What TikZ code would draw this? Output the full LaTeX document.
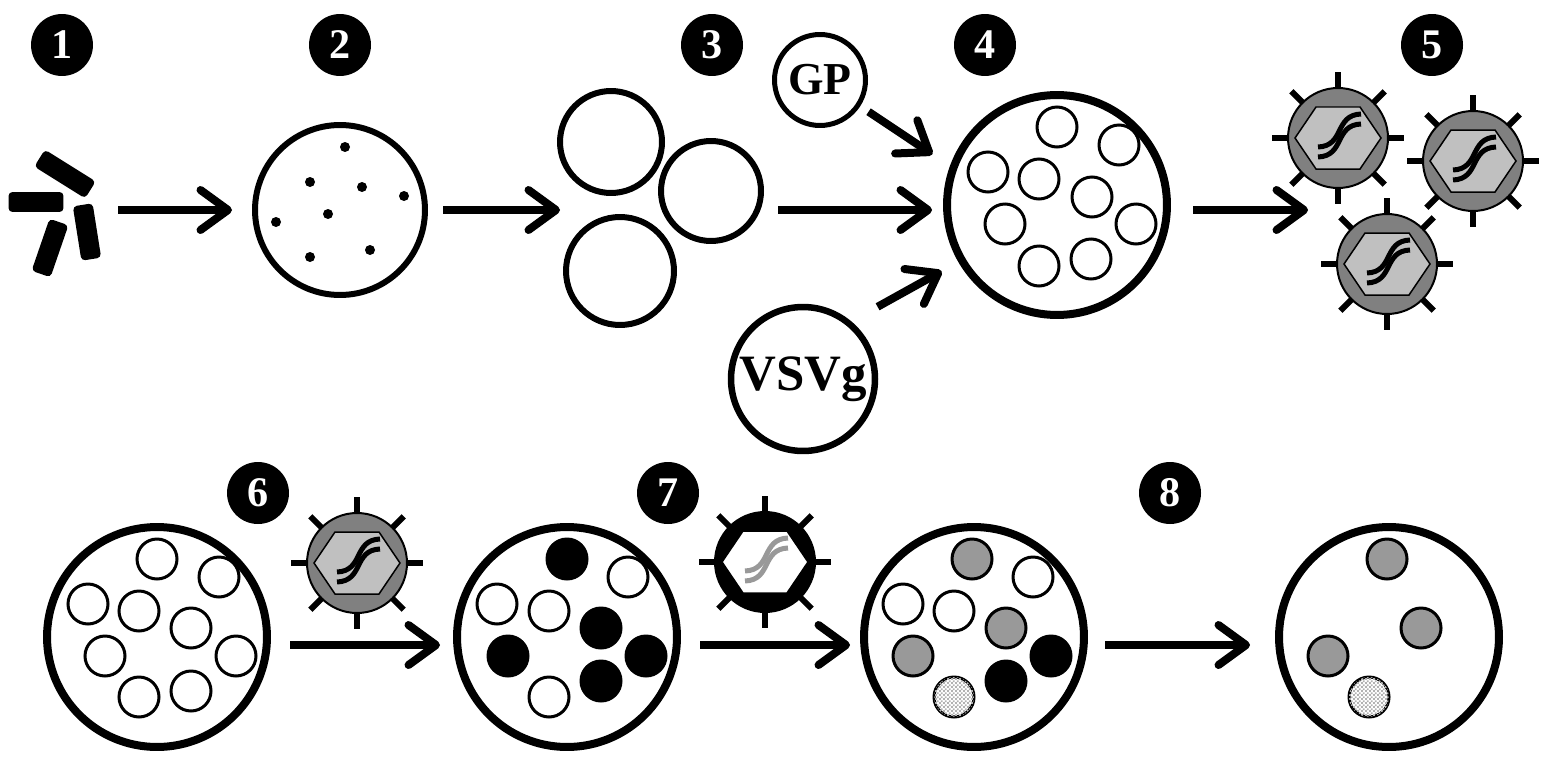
\documentclass[tikz,border=0pt]{standalone}
\usepackage{fontspec}
\setmainfont{Liberation Serif}
\usetikzlibrary{positioning}
\usetikzlibrary{arrows.meta, calc, patterns}
\definecolor{ringgray}{RGB}{128,128,128}
\definecolor{hexgray}{RGB}{192,192,192}
\definecolor{dotgray}{RGB}{153,153,153}

% fine checker for the marked vesicle
\pgfdeclarepatternformonly{finechecker}{\pgfpointorigin}{\pgfpoint{2.4pt}{2.4pt}}{\pgfpoint{2.4pt}{2.4pt}}{%
    \pgfpathrectangle{\pgfpointorigin}{\pgfpoint{1.2pt}{1.2pt}}%
    \pgfpathrectangle{\pgfpoint{1.2pt}{1.2pt}}{\pgfpoint{1.2pt}{1.2pt}}%
    \pgfusepath{fill}}

% virus particle: ring colour, capsid colour, genome colour
\tikzset{
  pics/virus/.style n args={3}{code={
    \foreach \a in {0,45,...,315}
      \draw[line width=0.12cm] (\a:44) -- (\a:66);
    \draw[fill=#1, line width=0.04cm] (0,0) circle (1cm);
    \draw[fill=#2, line width=0.03cm] (-43,0) -- (-22,-31) -- (22,-31) -- (43,0) -- (22,31) -- (-22,31) -- cycle;
    \draw[#3, line width=0.1cm] (-20,9) .. controls (7,8) and (-4,-23) .. (23,-24);
    \draw[#3, line width=0.1cm] (-20,19) .. controls (7,18) and (-4,-13) .. (23,-14);
  }}
}

\begin{document}
\begin{tikzpicture}[x=0.02cm, y=-0.02cm]
    \tikzstyle{num} = [circle, fill=black, text=white, minimum size=1.24cm, inner sep=0pt, font=\fontsize{24}{24}\selectfont\bfseries]
    \tikzstyle{cell} = [circle, draw, line width=0.16cm, minimum size=4.4cm, inner sep=0pt]
    \tikzstyle{ring} = [circle, draw, line width=0.12cm, inner sep=0pt]
    \tikzstyle{ves} = [circle, draw, line width=0.06cm, fill=white, minimum size=0.8cm, inner sep=0pt]
    \tikzstyle{opn} = [ves]
    \tikzstyle{blk} = [ves, fill=black]
    \tikzstyle{gry} = [ves, fill=dotgray]
    \tikzstyle{chk} = [ves, postaction={pattern=finechecker, pattern color=black!30}]
    \tikzstyle{dot} = [circle, fill=black, minimum size=0.2cm, inner sep=0pt]
    \tikzstyle{frag} = [rectangle, rounded corners=0.08cm, fill=black, minimum width=1.1cm, minimum height=0.4cm, inner sep=0pt]
    \tikzstyle{flow} = [line width=0.16cm, -{Straight Barb[round, length=0.55cm, width=0.8cm]}]
    %%
    \useasboundingbox (0,0) rectangle (1547,757);

    %% step numbers
    \node[num] (n1) at (62,45) {1};
    \node[num] (n2) at (340,45) {2};
    \node[num] (n3) at (712,45) {3};
    \node[num] (n4) at (985,45) {4};
    \node[num] (n5) at (1432,45) {5};
    \node[num] (n6) at (258,493) {6};
    \node[num] (n7) at (668,493) {7};
    \node[num] (n8) at (1170,493) {8};

    %% 1: tissue fragments
    \node[frag] (f1) at (36,202) {};
    \node[frag, rotate=-32, minimum width=1.2cm] (f2) at (65,174) {};
    \node[frag, rotate=-81] (f3) at (87,232) {};
    \node[frag, rotate=71] (f4) at (50,248) {};
    \coordinate (g1) at (60,210);

    %% 2: dissociated cells
    \node[ring, minimum size=3.4cm] (c2) at (340,210) {};
    \foreach \x/\y [count=\i] in {345/147, 310/182, 362/187, 404/196, 276/222, 328/214, 310/257, 370/250}
        \node[dot] (d\i) at (\x,\y) {};

    %% 3: sorted cells
    \node[ring, minimum size=2.04cm] (r1) at (611,142) {};
    \node[ring, minimum size=2.0cm] (r2) at (711,191) {};
    \node[ring, minimum size=2.16cm] (r3) at (620,271) {};
    \coordinate (g3) at (660,210);

    %% envelope proteins
    \node[ring, line width=0.1cm, minimum size=1.82cm, font=\fontsize{26}{26}\selectfont\bfseries] (gp) at (820,80) {GP};
    \node[ring, line width=0.13cm, minimum size=2.88cm, font=\fontsize{29}{29}\selectfont\bfseries] (vsv) at (803,379) {VSVg};

    %% 4: culture
    \node[cell] (c4) at (1057,205) {};
    \begin{scope}[shift={(c4)}]
        \foreach \x/\y [count=\i] in {0/-78, 62/-60, -69/-33, -18/-26, 35/-8, -52/19, 79/19, -18/61, 34/54}
            \node[opn] (c4-\i) at (\x,\y) {};
    \end{scope}

    %% 5: pseudotyped particles
    \pic (v5a) at (1338,138) {virus={ringgray}{hexgray}{black}};
    \pic (v5b) at (1473,161) {virus={ringgray}{hexgray}{black}};
    \pic (v5c) at (1387,264) {virus={ringgray}{hexgray}{black}};
    \coordinate (g5) at (1400,210);

    \draw[flow] ($(g1)+(58,0)$) -- ($(c2)+(-108,0)$);
    \draw[flow] ($(c2)+(103,0)$) -- ($(g3)+(-100,0)$);
    \draw[flow] ($(g3)+(118,0)$) -- ($(g3 -| c4)+(-125,0)$);
    \draw[flow, shorten <=0.2cm, shorten >=0.42cm] (gp.-33) -- (c4.160);
    \draw[flow, shorten <=0.6cm, shorten >=0.38cm] (vsv.50) -- (c4.210);
    \draw[flow] ($(g3 -| c4)+(136,0)$) -- ($(g5)+(-92,0)$);

    %% 6-8: infection and selection
    \node[cell] (c6) at (157,637) {};
    \begin{scope}[shift={(c6)}]
        \foreach \x/\y [count=\i] in {0/-78, 62/-60, -69/-33, -18/-26, 34/-9, -52/19, 79/19, -18/60, 34/54}
            \node[opn] (c6-\i) at (\x,\y) {};
    \end{scope}

    \node[cell] (c7) at (567,637) {};
    \begin{scope}[shift={(c7)}]
        \foreach \x/\y/\s [count=\i] in {0/-78/blk, 61/-60/opn, -70/-33/opn, -18/-26/opn, 34/-9/blk, -59/19/blk, 79/19/blk, -18/60/opn, 34/44/blk}
            \node[\s] (c7-\i) at (\x,\y) {};
    \end{scope}

    \node[cell] (c8) at (974,637) {};
    \begin{scope}[shift={(c8)}]
        \foreach \x/\y/\s [count=\i] in {-2/-78/gry, 59/-60/opn, -71/-33/opn, -20/-26/opn, 32/-9/gry, -61/19/gry, 77/19/blk, -20/60/chk, 32/44/blk}
            \node[\s] (c8-\i) at (\x,\y) {};
    \end{scope}

    \node[cell] (c9) at (1389,637) {};
    \begin{scope}[shift={(c9)}]
        \foreach \x/\y/\s [count=\i] in {-2/-78/gry, 32/-9/gry, -61/19/gry, -20/60/chk}
            \node[\s] (c9-\i) at (\x,\y) {};
    \end{scope}

    \pic (v6) at (357,563) {virus={ringgray}{hexgray}{black}};
    \pic (v7) at (765,562) {virus={black}{white}{dotgray}};

    \draw[flow] ($(c6)+(133,8)$) -- ($(c7)+(-127,8)$);
    \draw[flow] ($(c7)+(133,8)$) -- ($(c8)+(-124,8)$);
    \draw[flow] ($(c8)+(131,8)$) -- ($(c9)+(-139,8)$);
\end{tikzpicture}
\end{document}
